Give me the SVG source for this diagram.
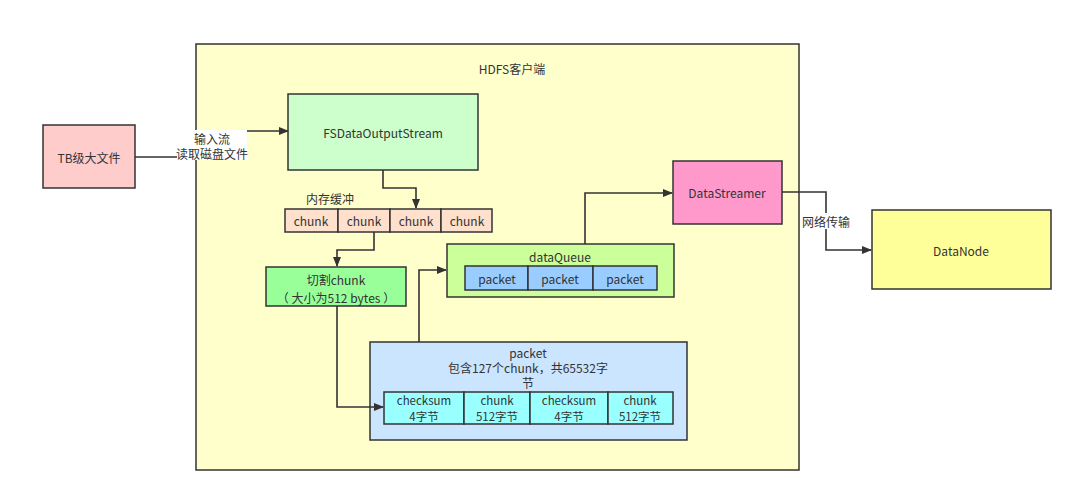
<svg xmlns="http://www.w3.org/2000/svg" width="1080" height="499" viewBox="0 0 1080 499">
<defs>
<marker id="ah" markerWidth="10" markerHeight="8" refX="9" refY="4" orient="auto" markerUnits="userSpaceOnUse">
<path d="M0,0 L10,4 L0,8 Z" fill="#333"/>
</marker>
<style>
rect{stroke:#333;stroke-width:1.5}
text{font-family:"Noto Sans CJK SC","Liberation Sans",sans-serif;font-size:12px;fill:#333;text-anchor:middle;dominant-baseline:central}
.s{font-size:11.5px}
.c{fill:none;stroke:#333;stroke-width:1.6;marker-end:url(#ah)}
</style>
</defs>
<rect width="1080" height="499" fill="#fff" style="stroke:none"/>
<g id="hdfs-client">
<rect x="196" y="44" width="603" height="426" fill="#FFFFCC"/>
<text x="512" y="68">HDFS客户端</text>
</g>
<g id="tb-file">
<rect x="43" y="125" width="92" height="63" fill="#FFCCCC"/>
<text x="89" y="157">TB级大文件</text>
</g>
<g id="fsdataoutputstream">
<rect x="288" y="94" width="190" height="76" fill="#CCFFCC"/>
<text x="383" y="132">FSDataOutputStream</text>
</g>
<g id="memory-buffer">
<text x="330" y="198">内存缓冲</text>
<rect x="285" y="209" width="53" height="23" fill="#FFE0CC"/>
<rect x="338" y="209" width="52" height="23" fill="#FFE0CC"/>
<rect x="390" y="209" width="51" height="23" fill="#FFE0CC"/>
<rect x="441" y="209" width="51" height="23" fill="#FFE0CC"/>
<text x="311" y="220">chunk</text>
<text x="364" y="220">chunk</text>
<text x="416" y="220">chunk</text>
<text x="467" y="220">chunk</text>
</g>
<g id="cut-chunk">
<rect x="266" y="267" width="140" height="39" fill="#99FF99"/>
<text x="336" y="279">切割chunk</text>
<text x="336" y="297">（ 大小为512 bytes ）</text>
</g>
<g id="dataqueue">
<rect x="447" y="244" width="227" height="53" fill="#CCFF99"/>
<text x="560" y="256">dataQueue</text>
<rect x="465" y="266" width="63" height="24" fill="#99CCFF"/>
<rect x="528" y="266" width="65" height="24" fill="#99CCFF"/>
<rect x="593" y="266" width="64" height="24" fill="#99CCFF"/>
<text x="497" y="278">packet</text>
<text x="560" y="278">packet</text>
<text x="625" y="278">packet</text>
</g>
<g id="packet">
<rect x="370" y="342" width="317" height="98" fill="#CCE5FF"/>
<text x="528" y="352">packet</text>
<text x="528" y="367">包含127个chunk，共65532字</text>
<text x="528" y="382">节</text>
<rect x="384" y="392" width="80" height="32" fill="#99FFFF"/>
<rect x="464" y="392" width="66" height="32" fill="#99FFFF"/>
<rect x="530" y="392" width="78" height="32" fill="#99FFFF"/>
<rect x="608" y="392" width="65" height="32" fill="#99FFFF"/>
<text class="s" x="424" y="400">checksum</text>
<text class="s" x="424" y="416">4字节</text>
<text class="s" x="497" y="400">chunk</text>
<text class="s" x="497" y="416">512字节</text>
<text class="s" x="569" y="400">checksum</text>
<text class="s" x="569" y="416">4字节</text>
<text class="s" x="640" y="400">chunk</text>
<text class="s" x="640" y="416">512字节</text>
</g>
<g id="datastreamer">
<rect x="673" y="161" width="109" height="63" fill="#FF99CC"/>
<text x="727" y="192">DataStreamer</text>
</g>
<g id="datanode">
<rect x="872" y="210" width="179" height="79" fill="#FFFF99"/>
<text x="961" y="250">DataNode</text>
</g>
<g id="connectors">
<path class="c" d="M135,157 H212 V131 H288"/>
<path class="c" d="M383,170 V188 H416 V208"/>
<path class="c" d="M374,232 V250 H337 V266"/>
<path class="c" d="M337,306 V407 H383"/>
<path class="c" d="M419,342 V270 H446"/>
<path class="c" d="M585,244 V193 H672"/>
<path class="c" d="M782,192 H826 V250 H871"/>
<rect x="177" y="130" width="70" height="30" fill="#fff" style="stroke:none"/>
<text x="212" y="138">输入流</text>
<text x="212" y="153">读取磁盘文件</text>
<rect x="801" y="213" width="50" height="16" fill="#fff" style="stroke:none"/>
<text x="826" y="221">网络传输</text>
</g>
</svg>
